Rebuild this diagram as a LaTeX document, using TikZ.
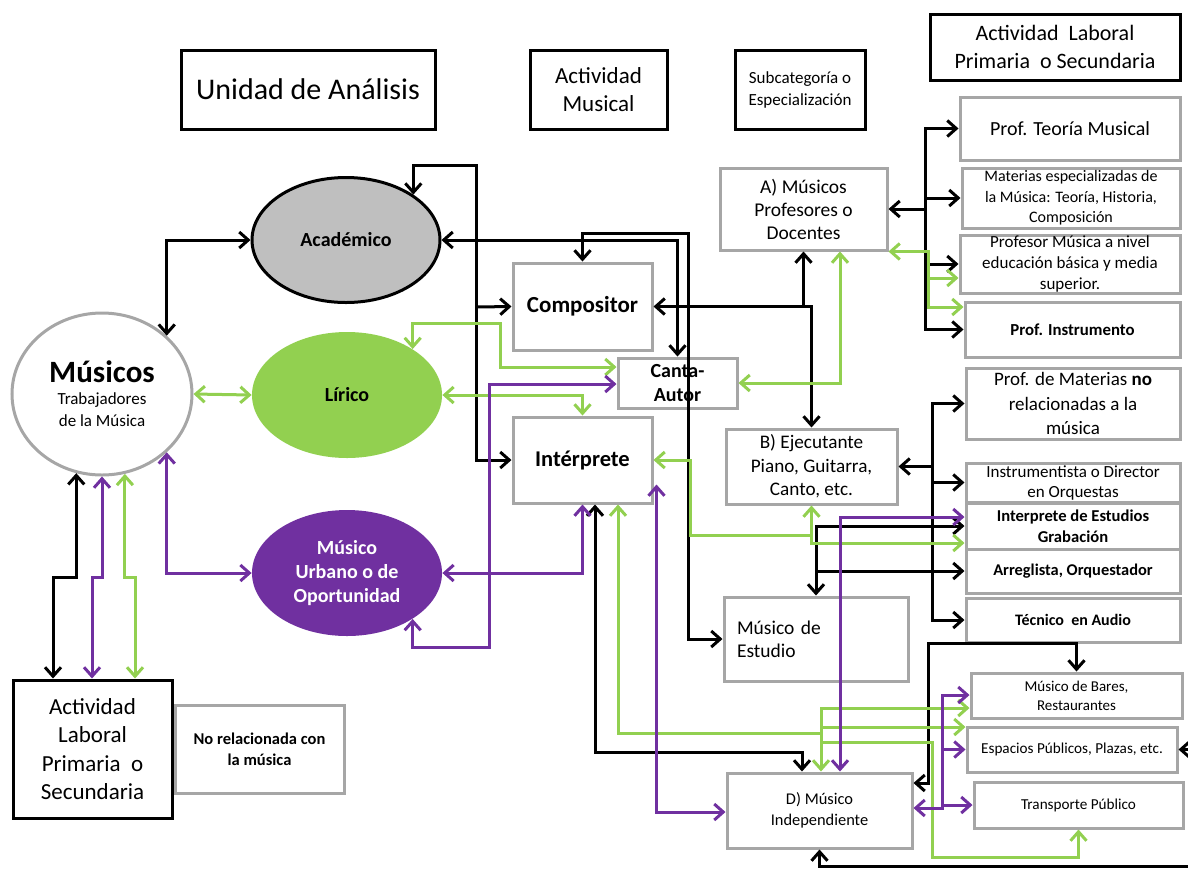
\documentclass[tikz,border=0pt]{standalone}
\usepackage{fontspec}
\setmainfont{Carlito}
\usepackage{tikz}
\usetikzlibrary{shapes.geometric}
\usetikzlibrary{arrows.meta}
\usepackage{xcolor}

\definecolor{musgreen}{HTML}{92D050}
\definecolor{muspurple}{HTML}{7030A0}
\definecolor{boxgray}{HTML}{A6A6A6}
\definecolor{acadgray}{HTML}{BFBFBF}

\begin{document}
\begin{tikzpicture}[
    x=0.5pt, y=-0.5pt,
    >={Straight Barb[length=4.5pt,width=8pt]},
    hdr/.style={draw, line width=1.5pt, fill=white, align=center, inner sep=1pt},
    gbox/.style={draw=boxgray, line width=1.5pt, fill=white, align=center, inner sep=1pt},
    oval/.style={ellipse, inner sep=0pt, align=center, minimum width=95pt, minimum height=63pt, font=\bfseries\fontsize{10}{12}\selectfont},
    bline/.style={line width=1.5pt, black},
    gline/.style={line width=1.5pt, musgreen},
    pline/.style={line width=1.5pt, muspurple}
]
\useasboundingbox (0,0) rectangle (1188,869);

% Headers
\node[hdr, minimum width=127pt, minimum height=39.5pt, font=\fontsize{15}{18}\selectfont] (unidad) at (308,89.5) {Unidad de Análisis};
\node[hdr, minimum width=68.5pt, minimum height=39.5pt, font=\fontsize{11.5}{14}\selectfont] (actmus) at (598.5,89.5) {Actividad\\Musical};
\node[hdr, minimum width=65pt, minimum height=39.5pt, font=\fontsize{8.5}{11}\selectfont] (subcat) at (800,89.5) {Subcategoría o\\Especialización};
\node[hdr, minimum width=125pt, minimum height=33pt, font=\fontsize{11}{14}\selectfont] (actlab) at (1055,47) {Actividad~ Laboral\\Primaria~ o Secundaria};

% Unit and musical activities
\node[ellipse, draw=boxgray, line width=1.5pt, fill=white, minimum width=90pt, minimum height=81pt, inner sep=0pt, align=center, font=\fontsize{8.5}{11}\selectfont] (musicos) at (102,394) {{\fontsize{15.5}{15.5}\selectfont\bfseries Músicos}\\Trabajadores\\de la Música};
\node[oval, draw, line width=1.5pt, fill=acadgray, minimum width=94pt, minimum height=62.5pt] (academico) at (346,240) {Académico};
\node[oval, fill=musgreen] (lirico) at (347,395) {Lírico};
\node[oval, fill=muspurple, text=white, font=\bfseries\fontsize{10}{12}\selectfont] (urbano) at (347,573) {Músico\\Urbano o de\\Oportunidad};
\node[hdr, minimum width=79.5pt, minimum height=69pt, font=\fontsize{11.5}{14.25}\selectfont] (laboral) at (92.5,749) {Actividad\\Laboral\\Primaria~ o\\Secundaria};
\node[gbox, minimum width=84.5pt, minimum height=44pt, font=\bfseries\fontsize{8.25}{10.5}\selectfont] (norel) at (259.5,749) {No relacionada con\\la música};

% Roles
\node[gbox, minimum width=69.5pt, minimum height=43.5pt, font=\bfseries\fontsize{11.5}{14}\selectfont] (compositor) at (582.5,306.5) {Compositor};
\node[gbox, minimum width=59.5pt, minimum height=25pt, inner sep=0pt, font=\bfseries\fontsize{10}{12}\selectfont] (canta) at (677.5,383) {Canta-\\Autor};
\node[gbox, minimum width=69.5pt, minimum height=43pt, font=\bfseries\fontsize{11.25}{14}\selectfont] (interp) at (582.5,460) {Intérprete};

% Subcategories
\node[gbox, minimum width=83.5pt, minimum height=41pt, font=\fontsize{9.75}{11.5}\selectfont] (profes) at (803.5,209) {A) Músicos\\Profesores o\\Docentes};
\node[gbox, minimum width=85.5pt, minimum height=37.5pt, inner sep=0pt, font=\fontsize{9.6}{11.75}\selectfont] (ejec) at (811.5,466.5) {B) Ejecutante\\Piano, Guitarra,\\Canto, etc.};
\node[gbox, minimum height=42pt, text width=79pt, inner xsep=6.5pt, align=left, font=\fontsize{9.75}{11.5}\selectfont] (estudio) at (816,639) {Músico de\\Estudio};
\node[gbox, minimum width=92.5pt, minimum height=37.5pt, font=\fontsize{8.2}{10.5}\selectfont] (indep) at (819.5,810.5) {D) Músico\\Independiente};

% Primary or secondary work
\node[gbox, minimum width=110pt, minimum height=31.5pt, font=\fontsize{10}{12}\selectfont] (teoria) at (1070,128.5) {Prof. Teoría Musical};
\node[gbox, minimum width=109pt, minimum height=30pt, inner sep=0pt, font=\fontsize{8}{10.25}\selectfont] (materias) at (1071,198) {Materias especializadas de\\la Música: Teoría, Historia,\\Composición};
\node[gbox, minimum width=110pt, minimum height=29pt, inner sep=0pt, font=\fontsize{8.5}{10.5}\selectfont] (basica) at (1070,264) {Profesor Música a nivel\\educación básica y media\\superior.};
\node[gbox, minimum width=107.5pt, minimum height=27.5pt, font=\bfseries\fontsize{8.4}{10}\selectfont] (instrum) at (1072.5,329.5) {Prof. Instrumento};
\node[gbox, minimum width=107pt, minimum height=35.5pt, inner sep=0pt, font=\fontsize{9.5}{12.25}\selectfont] (nomat) at (1073,403.5) {Prof. de Materias \textbf{no}\\relacionadas a la\\música};
\node[gbox, minimum width=107pt, minimum height=19.5pt, inner sep=0pt, font=\fontsize{8.5}{10}\selectfont] (director) at (1073,482.5) {Instrumentista o Director\\en Orquestas};
\node[gbox, minimum width=107pt, minimum height=23pt, inner sep=0pt, font=\bfseries\fontsize{8.3}{10.5}\selectfont] (grabacion) at (1073,526) {Interprete de Estudios\\Grabación};
\node[gbox, minimum width=107pt, minimum height=22pt, font=\bfseries\fontsize{8.2}{10}\selectfont] (arreglista) at (1073,571) {Arreglista, Orquestador};
\node[gbox, minimum width=107pt, minimum height=22pt, font=\bfseries\fontsize{8}{10}\selectfont] (tecnico) at (1073,620) {Técnico~ en Audio};
\node[gbox, minimum width=105.5pt, minimum height=22.5pt, inner sep=0pt, font=\fontsize{7.5}{9.5}\selectfont] (bares) at (1076.5,695.5) {Músico de Bares,\\Restaurantes};
\node[gbox, minimum width=105pt, minimum height=22.5pt, font=\fontsize{7.6}{9.5}\selectfont] (espacios) at (1072,749.5) {Espacios Públicos, Plazas, etc.};
\node[gbox, minimum width=104.5pt, minimum height=23pt, font=\fontsize{7.6}{9.5}\selectfont] (transp) at (1078.5,805) {Transporte Público};

% Junctions
\coordinate (jAcad) at (476,307);
\coordinate (jA) at (925,209);
\coordinate (jAg) at (928,278);
\coordinate (jB) at (932,466.5);
\coordinate (jEst) at (816,571);
\coordinate (jEjec) at (811.5,535);
\coordinate (jD) at (821,733);
\coordinate (offR) at (1188,866);
\coordinate (offE) at (1188,749.5);

% Black paths
\draw[bline, <->] (musicos.42.5) |- (academico.west);
\draw[bline, <->] (academico.34) |- (476,165) |- (interp.west);
\draw[bline, ->] (jAcad) -- (compositor.west);
\draw[bline, <->] (academico.east) -| (canta.north);
\draw[bline, <->] (compositor.north) |- (688,233) |- (estudio.west);
\draw[bline, <->] (compositor.east) -| (profes.south);
\draw[bline, ->] (compositor.east -| profes.south) -| (ejec.north);
\draw[bline, ->] (jA) -- (profes.east);
\draw[bline, ->] (jA) |- (teoria.west);
\draw[bline, ->] (jA) |- (materias.west);
\draw[bline, ->] (jA) |- (basica.west);
\draw[bline, ->] (jA) |- (instrum.west);
\draw[bline, ->] (jB) -- (ejec.east);
\draw[bline, ->] (jB) |- (nomat.west);
\draw[bline, ->] (jB) |- (director.west);
\draw[bline, ->] (jB) |- (tecnico.west);
\draw[bline, <->] (estudio.north) |- (grabacion.west);
\draw[bline, ->] (jEst) -- (arreglista.west);
\draw[bline, <->] (interp.south -| 595,0) |- (802,752) -- (indep.north -| 802,0);
\draw[bline, <->] (indep.east |- 0,783) -| (928,643) -| (bares.north);
\draw[bline, ->] (offR) -| (indep.south);
\draw[bline, ->] (offE) -- (espacios.east);
\draw[bline, <->] (musicos.-108) |- (53,577) -- (laboral.north -| 53,0);

% Green paths
\draw[gline, <->] (musicos.east) -- (lirico.west);
\draw[gline, <->] (lirico.35) |- (500,323) |- (canta.west |- 0,367);
\draw[gline, <->] (lirico.east) -| (interp.north);
\draw[gline, <->] (canta.east) -| (profes.south -| 840,0);
\draw[gline, <->] (interp.east) -| (690,535) -| (ejec.south);
\draw[gline, ->] (jEjec) |- (grabacion.west |- 0,543);
\draw[gline, <->] (profes.south east) -| (928,307) -- (instrum.west |- 0,307);
\draw[gline, ->] (jAg) -- (basica.west |- 0,278);
\draw[gline, <->] (musicos.-74) |- (135,577) -- (laboral.north -| 135,0);
\draw[gline, <->] (interp.south -| 618,0) |- (jD) -- (indep.north -| 821,0);
\draw[gline, ->] (jD) |- (bares.west |- 0,708);
\draw[gline, ->] (jD) |- (espacios.west |- 0,727);
\draw[gline, ->] (jD) |- (932,742) -- (932,857) -| (transp.south);

% Purple paths
\draw[pline, <->] (musicos.-42.5) |- (urbano.west);
\draw[pline, <->] (urbano.east) -| (interp.south);
\draw[pline, <->] (urbano.-35) |- (489,647) |- (canta.west |- 0,384);
\draw[pline, <->] ([shift={(1.5pt,10pt)}]interp.south east) |- (indep.west |- 0,812);
\draw[pline, <->] (grabacion.west |- 0,517) -| (indep.north -| 840,0);
\draw[pline, <->] (indep.east |- 0,808) -| (942,695) -- (bares.west |- 0,695);
\draw[pline, ->] (942,749.5) -- (espacios.west);
\draw[pline, ->] (942,805) -- (transp.west);
\draw[pline, <->] (musicos.south) |- (92,577) -- (laboral.north -| 92,0);

\end{tikzpicture}
\end{document}
